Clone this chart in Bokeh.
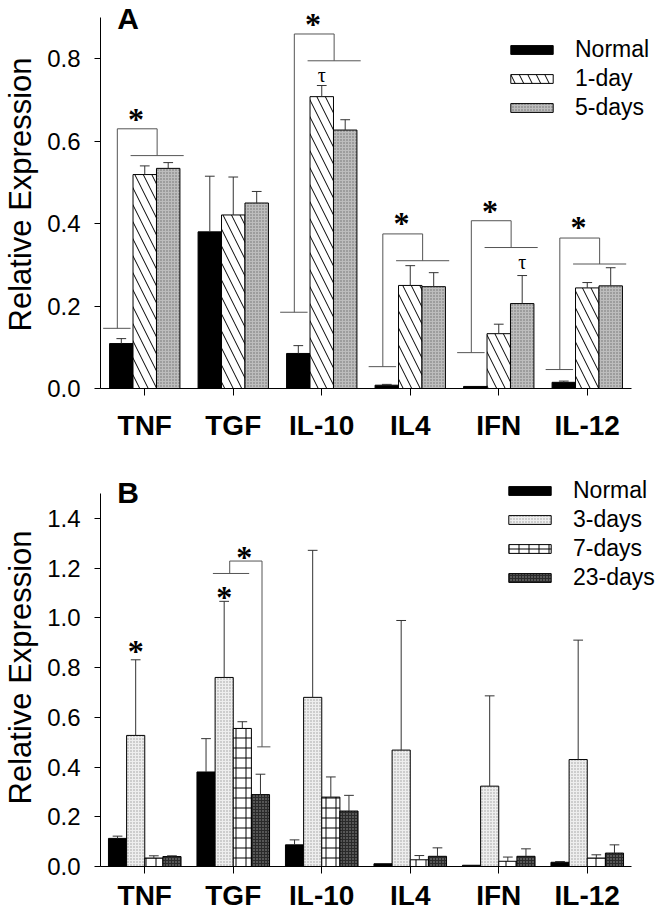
from bokeh.plotting import figure
from bokeh.models import (Range1d, FixedTicker, NumeralTickFormatter, Legend, LegendItem,
                          ColumnDataSource, LabelSet, Label)
from bokeh.layouts import column
from bokeh.embed import file_html
from bokeh.resources import INLINE
import numpy as np

cytokines = ["TNF", "TGF", "IL-10", "IL4", "IFN", "IL-12"]

# ---------------- Panel A data (bar value, upper end of error bar) ----------------
a_series = ["Normal", "1-day", "5-days"]
a_normal = [0.109, 0.380, 0.085, 0.008, 0.005, 0.015]
a_normal_err = [0.121, 0.515, 0.104, 0.010, 0.006, 0.018]
a_day1 = [0.519, 0.421, 0.708, 0.250, 0.133, 0.244]
a_day1_err = [0.540, 0.513, 0.735, 0.298, 0.156, 0.257]
a_day5 = [0.534, 0.450, 0.627, 0.247, 0.206, 0.249]
a_day5_err = [0.548, 0.478, 0.652, 0.281, 0.274, 0.293]
a_yticks = [0.0, 0.2, 0.4, 0.6, 0.8]

# significance brackets, panel A (Normal vs 1-day/5-days)
a_br_cats = ["TNF", "IL-10", "IL4", "IFN", "IL-12"]
a_br_low = [0.146, 0.185, 0.053, 0.087, 0.046]
a_br_top = [0.630, 0.860, 0.375, 0.407, 0.365]
a_br_grp = [0.565, 0.795, 0.310, 0.342, 0.302]
a_star_y = [0.668, 0.898, 0.416, 0.445, 0.407]
a_tau_cats = ["IL-10", "IFN"]
a_tau_series = ["1-day", "5-days"]
a_tau_y = [0.760, 0.306]

# ---------------- Panel B data ----------------
b_series = ["Normal", "3-days", "7-days", "23-days"]
b_normal = [0.113, 0.380, 0.087, 0.011, 0.005, 0.017]
b_normal_err = [0.122, 0.514, 0.107, 0.012, 0.006, 0.020]
b_day3 = [0.527, 0.760, 0.680, 0.468, 0.323, 0.430]
b_day3_err = [0.831, 1.066, 1.271, 0.989, 0.686, 0.910]
b_day7 = [0.034, 0.555, 0.279, 0.027, 0.021, 0.034]
b_day7_err = [0.043, 0.582, 0.360, 0.044, 0.038, 0.047]
b_day23 = [0.040, 0.289, 0.223, 0.041, 0.041, 0.054]
b_day23_err = [0.043, 0.371, 0.286, 0.075, 0.071, 0.087]
b_yticks = [0.0, 0.2, 0.4, 0.6, 0.8, 1.0, 1.2, 1.4]

b_star_cats = ["TNF", "TGF"]
b_star_y = [0.890, 1.106]
# TGF bracket: 3-days/7-days vs 23-days
b_br_low = 1.178
b_br_top = 1.228
b_br_end = 0.481
b_br_star_y = 1.267

FONT = "Liberation Sans"
idx = {c: i + 0.5 for i, c in enumerate(cytokines)}
centers = np.array([idx[c] for c in cytokines])
NCAT = len(cytokines)
PX_X = 531 / NCAT          # pixels per category
FRAME_W = 558

styles = {
    "Normal": dict(fill_color="black", hatch_pattern=None),
    "1-day": dict(fill_color="white", hatch_pattern="\\", hatch_color="black", hatch_scale=17, hatch_weight=1),
    "5-days": dict(fill_color="#bdbdbd", hatch_pattern=".", hatch_color="#6e6e6e", hatch_scale=3, hatch_weight=1),
    "3-days": dict(fill_color="#eeeeee", hatch_pattern=".", hatch_color="#9a9a9a", hatch_scale=3, hatch_weight=1),
    "7-days": dict(fill_color="white", hatch_pattern="+", hatch_color="black", hatch_scale=10, hatch_weight=1),
    "23-days": dict(fill_color="#2a2a2a", hatch_pattern=".", hatch_color="#9a9a9a", hatch_scale=3, hatch_weight=1),
}


def base_fig(ymax, yshow, yticks, px_per_unit, top, bottom, xstand):
    p = figure(frame_width=FRAME_W, frame_height=int(round(ymax * px_per_unit)),
               x_range=Range1d(0, FRAME_W / PX_X), y_range=Range1d(0, ymax),
               output_backend="svg", toolbar_location=None,
               min_border_left=92, min_border_right=0, min_border_top=top, min_border_bottom=bottom)
    p.outline_line_color = None
    p.xgrid.visible = False
    p.ygrid.visible = False
    p.background_fill_color = "white"
    p.border_fill_color = "white"
    ya = p.yaxis[0]
    ya.bounds = (0, yshow)
    ya.ticker = FixedTicker(ticks=yticks)
    ya.formatter = NumeralTickFormatter(format="0.0")
    ya.minor_tick_line_color = None
    ya.major_tick_out = 6
    ya.major_tick_in = 0
    ya.major_label_standoff = 14
    ya.major_label_text_font = FONT
    ya.major_label_text_font_size = "24px"
    ya.major_label_text_color = "black"
    ya.axis_label = "Relative Expression"
    ya.axis_label_text_font = FONT
    ya.axis_label_text_font_size = "31px"
    ya.axis_label_text_font_style = "normal"
    ya.axis_label_text_color = "black"
    ya.axis_label_standoff = 6
    ya.axis_line_color = "black"
    ya.major_tick_line_color = "black"
    xa = p.xaxis[0]
    xa.bounds = (0, NCAT)
    xa.ticker = FixedTicker(ticks=list(centers))
    xa.major_label_overrides = {float(idx[c]): c for c in cytokines}
    xa.minor_tick_line_color = None
    xa.major_tick_out = 7
    xa.major_tick_in = 0
    xa.major_label_standoff = xstand
    xa.major_label_text_font = FONT
    xa.major_label_text_font_size = "28px"
    xa.major_label_text_font_style = "bold"
    xa.major_label_text_color = "black"
    xa.axis_line_color = "black"
    xa.major_tick_line_color = "black"
    return p


def draw_bars(p, series, values, errs, width):
    n = len(series)
    offs = (np.arange(n) - (n - 1) / 2) * width
    rends = []
    for s, v, e, o in zip(series, values, errs, offs):
        x = centers + o
        r = p.vbar(x=x, top=v, width=width, line_color="black", line_width=1, **styles[s])
        rends.append(r)
        v = np.array(v); e = np.array(e)
        m = e > v + 0.001
        p.segment(x0=x[m], y0=v[m], x1=x[m], y1=e[m], line_color="#333333", line_width=1)
        p.segment(x0=x[m] - 0.055, y0=e[m], x1=x[m] + 0.055, y1=e[m], line_color="#333333", line_width=1)
    return rends, dict(zip(series, offs))


def add_legend(p, series, rends, loc):
    items = [LegendItem(label=s, renderers=[r]) for s, r in zip(series, rends)]
    lg = Legend(items=items, location=loc, glyph_width=53, glyph_height=11, label_height=22,
                spacing=2, padding=0, margin=0, label_standoff=17,
                label_text_font=FONT, label_text_font_size="23px", label_text_color="black",
                border_line_color=None, background_fill_alpha=0)
    p.add_layout(lg, "center")


def stars(p, xs, ys):
    src = ColumnDataSource(dict(x=xs, y=ys, t=["*"] * len(xs)))
    p.add_layout(LabelSet(x="x", y="y", text="t", source=src, text_align="center", text_baseline="middle",
                          text_font=FONT, text_font_size="32px", text_font_style="bold",
                          text_color="black", y_offset=-6))


gray = "#555555"

# ---------------- Panel A ----------------
A_PX = 371 / 0.9
pa = base_fig(0.9 + 17 / A_PX, 0.9, a_yticks, A_PX, 0, 64, 14)
ra, aoffs = draw_bars(pa, a_series, [a_normal, a_day1, a_day5], [a_normal_err, a_day1_err, a_day5_err], 0.265)
add_legend(pa, a_series, ra, (405, 267))

bc = np.array([idx[c] for c in a_br_cats])
lo = np.array(a_br_low); tp = np.array(a_br_top); gp = np.array(a_br_grp)
pa.segment(x0=bc - 0.47, y0=lo, x1=bc - 0.16, y1=lo, line_color=gray, line_width=1)
pa.segment(x0=bc - 0.31, y0=lo, x1=bc - 0.31, y1=tp, line_color=gray, line_width=1)
pa.segment(x0=bc - 0.31, y0=tp, x1=bc + 0.14, y1=tp, line_color=gray, line_width=1)
pa.segment(x0=bc + 0.14, y0=tp, x1=bc + 0.14, y1=gp, line_color=gray, line_width=1)
pa.segment(x0=bc - 0.16, y0=gp, x1=bc + 0.44, y1=gp, line_color=gray, line_width=1)
stars(pa, list(bc - 0.1), a_star_y)
ta = ColumnDataSource(dict(x=[idx[c] + aoffs[s] for c, s in zip(a_tau_cats, a_tau_series)],
                           y=a_tau_y, t=["τ"] * len(a_tau_cats)))
pa.add_layout(LabelSet(x="x", y="y", text="t", source=ta, text_align="center", text_baseline="middle",
                       text_font="DejaVu Serif", text_font_size="20px", text_color="black"))
pa.add_layout(Label(x=0.19, y=0.898, text="A", text_font=FONT, text_font_size="30px",
                    text_font_style="bold", text_color="black", text_baseline="alphabetic"))

# ---------------- Panel B ----------------
pb = base_fig(1.6, 1.5, b_yticks, 373 / 1.5, 16, 44, 6)
rb, boffs = draw_bars(pb, b_series, [b_normal, b_day3, b_day7, b_day23],
                      [b_normal_err, b_day3_err, b_day7_err, b_day23_err], 0.205)
add_legend(pb, b_series, rb, (403, 275))

stars(pb, [idx[c] + boffs["3-days"] for c in b_star_cats], b_star_y)
tg = idx["TGF"]
pb.segment(x0=[tg - 0.23, tg - 0.04, tg - 0.04, tg + 0.325, tg + 0.27],
           y0=[b_br_low, b_br_low, b_br_top, b_br_top, b_br_end],
           x1=[tg + 0.18, tg - 0.04, tg + 0.325, tg + 0.325, tg + 0.42],
           y1=[b_br_low, b_br_top, b_br_top, b_br_end, b_br_end], line_color=gray, line_width=1)
stars(pb, [tg + 0.125], [b_br_star_y])
pb.add_layout(Label(x=0.19, y=1.504, text="B", text_font=FONT, text_font_size="30px",
                    text_font_style="bold", text_color="black", text_baseline="alphabetic"))

layout = column(pa, pb, spacing=0)
open("out.html", "w").write(file_html(layout, INLINE))
